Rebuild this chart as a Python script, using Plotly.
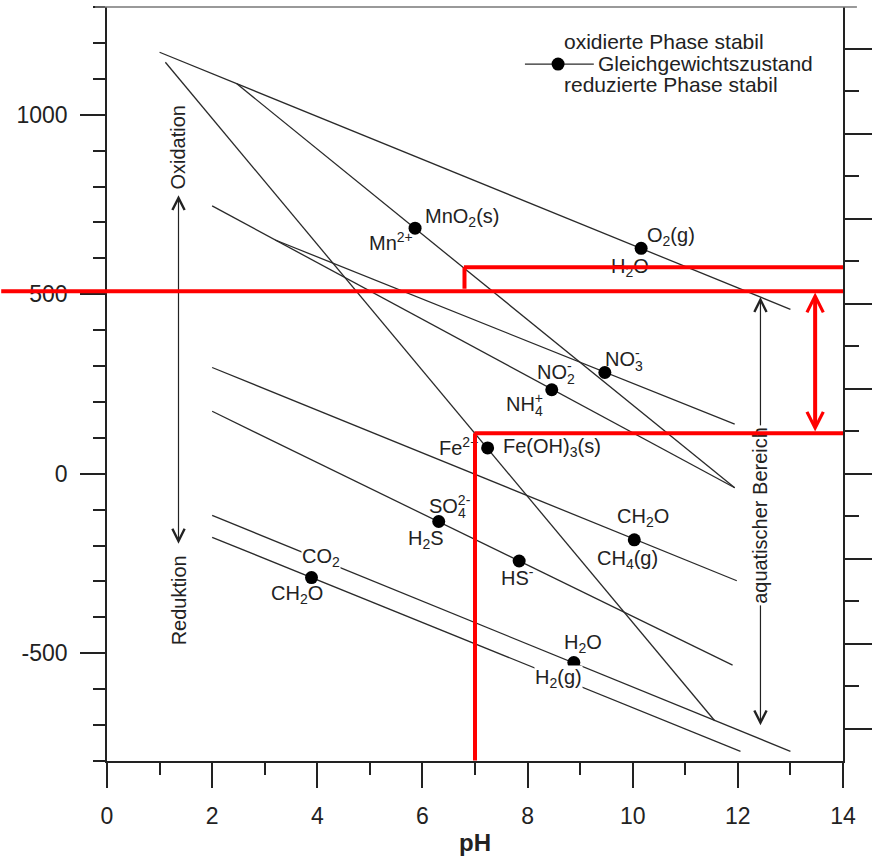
import plotly.graph_objects as go

# ---------------- axes ----------------
PH_RANGE = [0, 14]
E_RANGE = [-800, 1300]          # Eh in mV
MV_PER_PE = 59.16               # right-hand axis in pe units
X_TICKS = [0, 2, 4, 6, 8, 10, 12, 14]
Y_TICKS = [-500, 0, 500, 1000]

# ---------------- redox couples (line end points, pH / mV) ----------------
COUPLES = ["O2/H2O", "MnO2/Mn2+", "Fe(OH)3/Fe2+", "NO2-/NH4+", "NO3-/NO2-",
           "CH2O/CH4", "SO4/H2S", "H2O/H2", "CO2/CH2O"]
PH_START = [1.0, 2.47, 1.11, 2.0, 3.2, 2.0, 2.0, 2.0, 2.0]
PH_END = [13.0, 11.94, 11.56, 11.94, 11.94, 11.98, 11.9, 13.0, 12.05]
E_START = [1174, 1086, 1146, 746, 651, 296, 174, -116, -177]
E_END = [458, -39, -688, -39, 138, -298, -533, -773, -773]

# ---------------- equilibrium points ----------------
DOT_PH = [10.16, 5.86, 9.47, 8.46, 7.24, 6.31, 7.84, 10.03, 3.89, 8.88]
DOT_E = [628, 684, 282, 234, 72, -133, -243, -184, -289, -526]

# ---------------- species labels ----------------
# charge written directly above the stoichiometric index: the index is given a
# negative letter spacing so that the superscript starts at the same x
def stacked(base, sub, sup):
    return (base + '<sub><span style="letter-spacing:-0.56em">' + sub + "</span></sub>"
            + "<sup>" + sup + "</sup>")

LABEL_TEXT = ["MnO<sub>2</sub>(s)", "Mn<sup>2+</sup>", "O<sub>2</sub>(g)", "H<sub>2</sub>O",
              stacked("NO", "3", "-"), stacked("NO", "2", "-"), stacked("NH", "4", "+"),
              "Fe<sup>2+</sup>", "Fe(OH)<sub>3</sub>(s)",
              stacked("SO", "4", "2-"), "H<sub>2</sub>S", "HS<sup>-</sup>",
              "CH<sub>2</sub>O", "CH<sub>4</sub>(g)",
              "CO<sub>2</sub>", "CH<sub>2</sub>O",
              "H<sub>2</sub>O", "H<sub>2</sub>(g)"]
LABEL_PH = [6.76, 5.40, 10.73, 9.94, 9.84, 8.54, 7.95, 6.69, 8.46,
            6.52, 6.07, 7.80, 10.20, 9.90, 4.08, 3.61, 9.05, 8.58]
LABEL_E = [713, 646, 660, 575, 323, 285, 196, 77, 72,
           -86, -182, -287, -122, -238, -232, -337, -472, -569]

# ---------------- key ----------------
KEY_TEXT = ["oxidierte Phase stabil", "Gleichgewichtszustand", "reduzierte Phase stabil"]
KEY_PH = [8.65, 9.31, 8.65]
KEY_E = [1204, 1144, 1083]
KEY_LINE_PH = [7.95, 9.26]
KEY_DOT_PH = 8.58
KEY_LINE_E = 1141

# ---------------- arrows and side texts ----------------
OX_PH = 1.36
OX_E = [-196, 776]
OX_TEXT = ["Oxidation", "Reduktion"]
OX_TEXT_E = [910, -354]
AQ_PH = 12.43
AQ_E = [-702, 492]
AQ_TEXT = "aquatischer Bereich"
AQ_TEXT_E = -116
Y_TITLE = "E<sub>H</sub> [mV]"

# ---------------- red markup ----------------
RED_E = [508, 575, 113]     # horizontal levels
RED_STEP_PH = [6.8, 7.0]    # where the upper and lower levels start
RED_SPAN_PH = 13.47
RED_SPAN_E = [505, 116]

# ---------------- layout constants ----------------
W, H = 877, 859
ML, MR, MT, MB = 107, 29, 7, 94
PLOT_W = W - ML - MR
FONT = "Liberation Sans, Arial, sans-serif"
INK = "#222222"
LINE_INK = "#2a2a2a"
RED = "#ff0000"

fig = go.Figure()

for i, name in enumerate(COUPLES):
    fig.add_trace(go.Scatter(x=[PH_START[i], PH_END[i]], y=[E_START[i], E_END[i]],
                             mode="lines", name=name,
                             line=dict(color=LINE_INK, width=1.3), hoverinfo="skip"))

fig.add_trace(go.Scatter(x=DOT_PH, y=DOT_E, mode="markers",
                         marker=dict(color="black", size=13), hoverinfo="skip"))

# key symbol
fig.add_trace(go.Scatter(x=KEY_LINE_PH, y=[KEY_LINE_E, KEY_LINE_E], mode="lines",
                         line=dict(color=LINE_INK, width=1.3), hoverinfo="skip"))
fig.add_trace(go.Scatter(x=[KEY_DOT_PH], y=[KEY_LINE_E], mode="markers",
                         marker=dict(color="black", size=13), hoverinfo="skip"))

# invisible trace so the pe axis is laid out
fig.add_trace(go.Scatter(x=[None], y=[None], yaxis="y2", hoverinfo="skip"))

ann = []

def arrow(x0, y0, x1, y1, color, width, head, size, both=True):
    return dict(x=x1, y=y1, ax=x0, ay=y0, xref="x", yref="y", axref="x", ayref="y",
                showarrow=True, arrowhead=head, startarrowhead=head,
                arrowsize=size, startarrowsize=size,
                arrowside="end+start" if both else "end",
                arrowwidth=width, arrowcolor=color, standoff=0, startstandoff=0,
                text="", font=dict(size=1), borderpad=0)

# black double arrows
ann.append(arrow(OX_PH, OX_E[0], OX_PH, OX_E[1], INK, 1.2, 5, 2.0))
ann.append(arrow(AQ_PH, AQ_E[0], AQ_PH, AQ_E[1], INK, 1.2, 5, 2.0))

TXT = dict(family=FONT, size=20, color=INK)
KEY_FONT = dict(family=FONT, size=21, color=INK)
KNOCKOUT = {14, 17}  # labels that sit on top of a line

for i, t in enumerate(LABEL_TEXT):
    a = dict(x=LABEL_PH[i], y=LABEL_E[i], xref="x", yref="y", text=t,
             showarrow=False, font=TXT, xanchor="center", yanchor="middle", borderpad=0)
    if i in KNOCKOUT:
        a["bgcolor"] = "white"
    ann.append(a)

for t, e in zip(OX_TEXT, OX_TEXT_E):
    ann.append(dict(x=OX_PH, y=e, xref="x", yref="y", text=t, textangle=-90,
                    showarrow=False, font=TXT, xanchor="center", yanchor="middle"))

ann.append(dict(x=AQ_PH, y=AQ_TEXT_E, xref="x", yref="y", text=AQ_TEXT, textangle=-90,
                showarrow=False, font=TXT, xanchor="center", yanchor="middle",
                bgcolor="white", borderpad=1))

for t, x, e in zip(KEY_TEXT, KEY_PH, KEY_E):
    ann.append(dict(x=x, y=e, xref="x", yref="y", text=t, showarrow=False,
                    font=KEY_FONT, xanchor="left", yanchor="middle"))

# y-axis title, mostly beyond the left edge of the page
ann.append(dict(x=(4 - ML) / PLOT_W, y=0.51, xref="paper", yref="paper",
                text="<b>" + Y_TITLE + "</b>", textangle=-90, showarrow=False,
                font=dict(family=FONT, size=24, color=INK), xanchor="right", yanchor="middle"))

# red markup on top
left_edge_ph = PH_RANGE[0] - ML * (PH_RANGE[1] - PH_RANGE[0]) / PLOT_W
ann.append(arrow(left_edge_ph, RED_E[0], PH_RANGE[1], RED_E[0], RED, 4, 0, 1, both=False))
ann.append(arrow(RED_STEP_PH[0], RED_E[0] + 6, RED_STEP_PH[0], RED_E[1], RED, 4, 0, 1, both=False))
ann.append(arrow(RED_STEP_PH[0] - 0.02, RED_E[1], PH_RANGE[1], RED_E[1], RED, 4, 0, 1, both=False))
ann.append(arrow(RED_STEP_PH[1], E_RANGE[0], RED_STEP_PH[1], RED_E[2], RED, 4, 0, 1, both=False))
ann.append(arrow(RED_STEP_PH[1] - 0.02, RED_E[2], PH_RANGE[1], RED_E[2], RED, 4, 0, 1, both=False))
ann.append(arrow(RED_SPAN_PH, RED_SPAN_E[1], RED_SPAN_PH, RED_SPAN_E[0], RED, 4, 5, 0.8))

TICK_FONT = dict(family=FONT, size=23, color=INK)

fig.update_layout(
    width=W, height=H,
    margin=dict(l=ML, r=MR, t=MT, b=MB),
    paper_bgcolor="white", plot_bgcolor="white",
    showlegend=False,
    font=dict(family=FONT, color=INK),
    annotations=ann,
    shapes=[dict(type="line", xref="paper", yref="paper",
                 x0=-12 / PLOT_W, x1=1 + 14 / PLOT_W, y0=1, y1=1,
                 line=dict(color="#777777", width=1.5))],
    xaxis=dict(range=PH_RANGE, tickmode="array", tickvals=X_TICKS,
               ticktext=[str(v) for v in X_TICKS],
               ticks="outside", ticklen=25, tickwidth=1.5, tickcolor=INK,
               minor=dict(dtick=1, tick0=0, ticks="outside", ticklen=12,
                          tickwidth=1.5, tickcolor=INK, showgrid=False),
               showline=True, linecolor=INK, linewidth=1.5,
               showgrid=False, zeroline=False,
               tickfont=TICK_FONT, ticklabelstandoff=9,
               title=dict(text="<b>pH</b>", font=dict(family=FONT, size=24, color=INK),
                          standoff=6)),
    yaxis=dict(range=E_RANGE, tickmode="array", tickvals=Y_TICKS,
               ticktext=[str(v) for v in Y_TICKS],
               ticks="outside", ticklen=25, tickwidth=1.5, tickcolor=INK,
               minor=dict(dtick=100, tick0=0, ticks="outside", ticklen=12,
                          tickwidth=1.5, tickcolor=INK, showgrid=False),
               showline=True, linecolor=INK, linewidth=1.5,
               showgrid=False, zeroline=False,
               tickfont=TICK_FONT, ticklabelstandoff=8),
    yaxis2=dict(overlaying="y", side="right",
                range=[E_RANGE[0] / MV_PER_PE, E_RANGE[1] / MV_PER_PE],
                tickmode="linear", tick0=0, dtick=4,
                ticks="outside", ticklen=27, tickwidth=1.5, tickcolor=INK,
                minor=dict(dtick=2, tick0=0, ticks="outside", ticklen=14,
                           tickwidth=1.5, tickcolor=INK, showgrid=False),
                showticklabels=False, showline=True, linecolor=INK, linewidth=1.5,
                showgrid=False, zeroline=False),
)

fig.write_html("out.html")
